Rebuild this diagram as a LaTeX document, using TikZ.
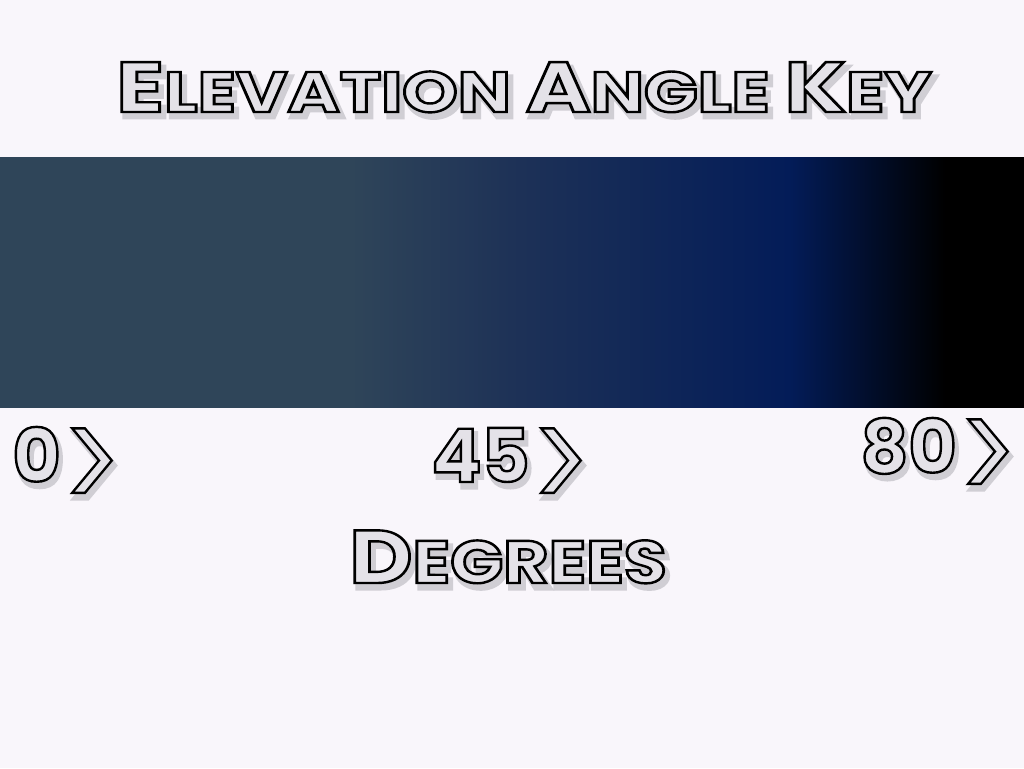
\documentclass[tikz,border=0pt]{standalone}
\usepackage{fontspec}
\newfontfamily\keyfont{Poppins}
\definecolor{keybg}{HTML}{F9F6FB}
\definecolor{slate}{HTML}{2F4559}
\definecolor{dusk}{HTML}{1D3157}
\definecolor{navy}{HTML}{031C58}
\definecolor{keyfill}{HTML}{E4E2E8}
\definecolor{keyshade}{HTML}{D0CED4}
\pgfdeclarehorizontalshading{elevbar}{100bp}{color(0bp)=(slate); color(42.09bp)=(slate);
  color(50.39bp)=(dusk); color(63.57bp)=(navy); color(71.14bp)=(black); color(100bp)=(black)}
% big and small capitals
\newcommand\capB[2]{{\fontsize{#1}{#1}\selectfont #2}}
\newcommand\chevw{1.4}
\newcommand\chev{\hspace{1pt}\raisebox{-30pt}{\scalebox{1.5}[1.9]{\special{pdf:literal direct \chevw\space w}\mdseries >}}}
% outlined text with a soft shadow
\newcommand\strokeon[2]{\special{pdf:literal direct 2 Tr #1 w #2 RG}}
\newcommand\strokeoff{\special{pdf:literal direct 0 Tr 0.4 w}}
\newcommand\keytext[2][1]{\scalebox{#1}[1]{%
  \makebox[0pt][l]{\hspace*{3pt}\raisebox{-5pt}{\def\chevw{2.8}\color{keyshade}\strokeon{5}{0.816 0.808 0.831}#2\strokeoff}}%
  {\color{keyfill}\strokeon{2.4}{0 0 0}#2\strokeoff}}}
\tikzset{%
  keylabel/.style = {anchor=base,inner sep=0pt,font=\keyfont\bfseries},
  tick/.style = {keylabel}
}
\begin{document}
\begin{tikzpicture}[x=1pt,y=1pt]
\useasboundingbox (0,0) rectangle (1024,768);
\fill[keybg] (0,0) rectangle (1024,768);
% colour bar
\shade[shading=elevbar] (0,360) rectangle (1024,610);
% labels
\node[keylabel] (title) at (524,656) {\keytext[1.24]{\capB{71}{E}\capB{57}{LEVATION }\capB{71}{A}\capB{57}{NGLE }\capB{71}{K}\capB{57}{EY}}};
\node[tick] (zero) at (67,286) {\keytext{\capB{74}{0\chev}}};
\node[tick] (fortyfive) at (511,286) {\keytext{\capB{74}{45\chev}}};
\node[tick] (eighty) at (939,295) {\keytext{\capB{74}{80\chev}}};
\node[keylabel] (unit) at (508,185) {\keytext[1.16]{\capB{75}{D}\capB{60}{EGREES}}};
\end{tikzpicture}
\end{document}
